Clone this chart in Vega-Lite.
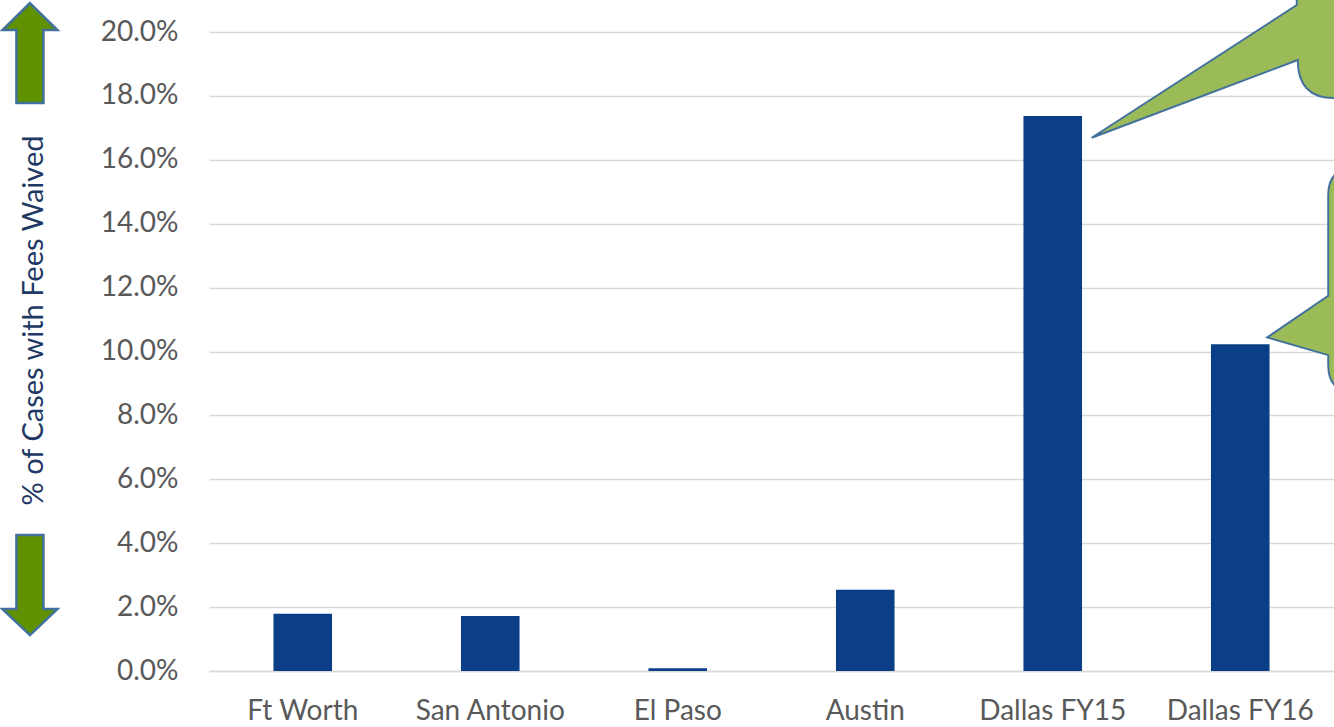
{
  "$schema": "https://vega.github.io/schema/vega-lite/v6.json",
  "width": 1125,
  "height": 639,
  "autosize": {"type": "none"},
  "padding": {"left": 209, "top": 32, "right": 0, "bottom": 56},
  "background": "white",
  "config": {"view": {"stroke": null}, "font": "Lato"},
  "datasets": {
    "cases": [
      {"city": "Ft Worth", "pct": 0.0179},
      {"city": "San Antonio", "pct": 0.0172},
      {"city": "El Paso", "pct": 0.00085},
      {"city": "Austin", "pct": 0.0254},
      {"city": "Dallas FY15", "pct": 0.1737},
      {"city": "Dallas FY16", "pct": 0.1023}
    ],
    "notes": [
      {"item": "up", "px": -0.955, "py": 0.1934},
      {"item": "down", "px": -0.955, "py": 0.0269},
      {"item": "callout15", "px": 4.708, "py": 0.1669},
      {"item": "callout16", "px": 5.644, "py": 0.1044}
    ]
  },
  "layer": [
    {
      "data": {"name": "cases"},
      "mark": {"type": "bar", "color": "#0A3E87"},
      "encoding": {
        "x": {
          "field": "city",
          "type": "nominal",
          "sort": null,
          "scale": {"paddingInner": 0.6875, "paddingOuter": 0.34375},
          "axis": {
            "title": null,
            "labelAngle": 0,
            "labelFontSize": 28,
            "labelColor": "#595959",
            "labelPadding": 26,
            "ticks": false,
            "domainColor": "#D9D9D9",
            "domainWidth": 1.5
          }
        },
        "y": {
          "field": "pct",
          "type": "quantitative",
          "scale": {"domain": [0, 0.2], "nice": false},
          "axis": {
            "title": "% of Cases with Fees Waived",
            "titleFontSize": 29,
            "titleFontWeight": "normal",
            "titleColor": "#203864",
            "titlePadding": 52,
            "titleY": 288,
            "values": [0, 0.02, 0.04, 0.06, 0.08, 0.1, 0.12, 0.14, 0.16, 0.18, 0.2],
            "format": ".1%",
            "labelFontSize": 28,
            "labelColor": "#595959",
            "labelPadding": 31,
            "ticks": false,
            "domain": false,
            "gridColor": "#D9D9D9",
            "gridWidth": 1.5
          }
        }
      }
    },
    {
      "data": {"name": "notes"},
      "transform": [{"filter": "datum.item === 'up'"}],
      "mark": {
        "type": "point",
        "filled": true,
        "size": 10000,
        "shape": "M0,-1 L0.55,-0.46 L0.27,-0.46 L0.27,1 L-0.27,1 L-0.27,-0.46 L-0.55,-0.46 Z",
        "fill": "#609200",
        "stroke": "#41719C",
        "strokeWidth": 2.5,
        "opacity": 1
      },
      "encoding": {
        "x": {"field": "px", "type": "quantitative", "scale": {"domain": [0, 6], "nice": false, "zero": false}, "axis": null},
        "y": {"field": "py", "type": "quantitative"}
      }
    },
    {
      "data": {"name": "notes"},
      "transform": [{"filter": "datum.item === 'down'"}],
      "mark": {
        "type": "point",
        "filled": true,
        "size": 10000,
        "shape": "M0,1 L0.55,0.48 L0.27,0.48 L0.27,-1 L-0.27,-1 L-0.27,0.48 L-0.55,0.48 Z",
        "fill": "#609200",
        "stroke": "#41719C",
        "strokeWidth": 2.5,
        "opacity": 1
      },
      "encoding": {
        "x": {"field": "px", "type": "quantitative", "scale": {"domain": [0, 6], "nice": false, "zero": false}, "axis": null},
        "y": {"field": "py", "type": "quantitative"}
      }
    },
    {
      "data": {"name": "notes"},
      "transform": [{"filter": "datum.item === 'callout15'"}],
      "mark": {
        "type": "point",
        "filled": true,
        "size": 40000,
        "shape": "M0,0 L2.05,-1.327 L2.05,-1.8 L3.2,-1.8 L3.2,-0.397 L2.423,-0.397 Q2.06,-0.397 2.06,-0.777 Z",
        "fill": "#9BBB59",
        "stroke": "#41719C",
        "strokeWidth": 2,
        "opacity": 1
      },
      "encoding": {
        "x": {"field": "px", "type": "quantitative", "scale": {"domain": [0, 6], "nice": false, "zero": false}, "axis": null},
        "y": {"field": "py", "type": "quantitative"}
      }
    },
    {
      "data": {"name": "notes"},
      "transform": [{"filter": "datum.item === 'callout16'"}],
      "mark": {
        "type": "point",
        "filled": true,
        "size": 40000,
        "shape": "M0,0 L0.61,-0.416 L0.61,-1.423 Q0.61,-1.693 0.877,-1.693 L1.5,-1.693 L1.5,0.547 L0.877,0.547 Q0.61,0.547 0.61,0.277 L0.61,0.177 Z",
        "fill": "#9BBB59",
        "stroke": "#41719C",
        "strokeWidth": 2,
        "opacity": 1
      },
      "encoding": {
        "x": {"field": "px", "type": "quantitative", "scale": {"domain": [0, 6], "nice": false, "zero": false}, "axis": null},
        "y": {"field": "py", "type": "quantitative"}
      }
    }
  ],
  "resolve": {"scale": {"x": "independent"}, "axis": {"x": "independent"}}
}
